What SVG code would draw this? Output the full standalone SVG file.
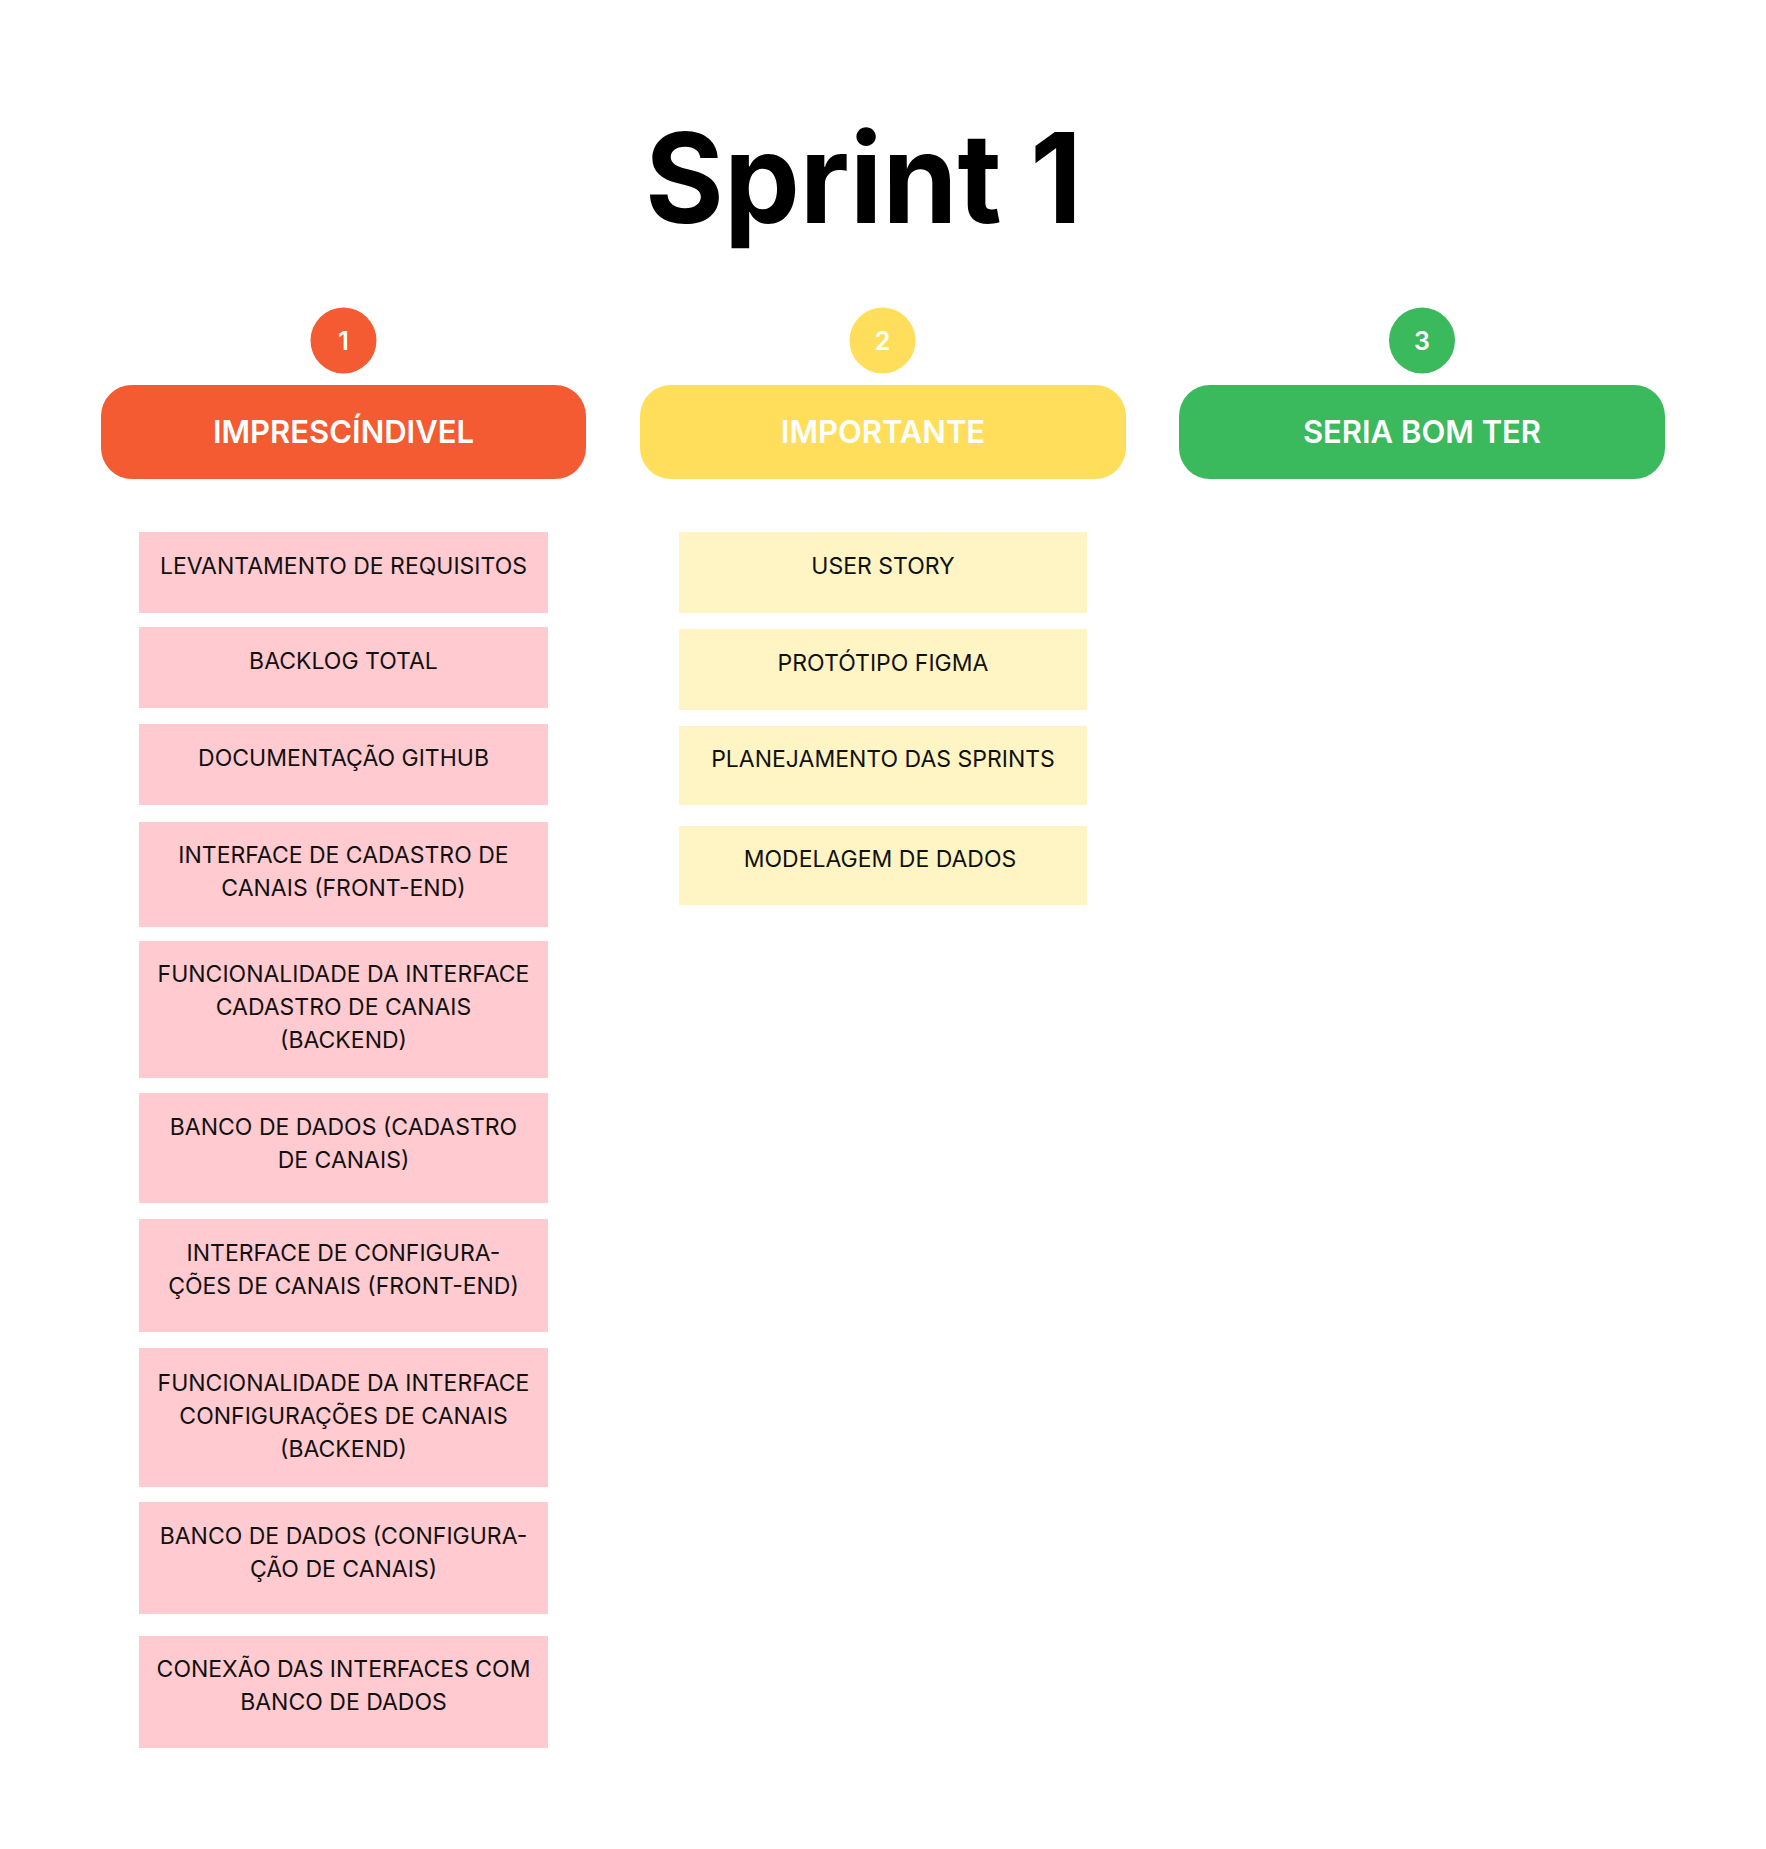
<svg xmlns="http://www.w3.org/2000/svg" width="1766" height="1849" viewBox="0 0 1766 1849">
<style>
.title{font-family:Inter,"Liberation Sans",sans-serif;font-weight:700;font-size:125px;fill:#000;text-anchor:middle}
.num{font-family:Inter,"Liberation Sans",sans-serif;font-weight:600;font-size:25px;fill:#fff;text-anchor:middle}
.head{font-family:Inter,"Liberation Sans",sans-serif;font-weight:600;font-size:31px;fill:#fff;text-anchor:middle}
.item{font-family:Inter,"Liberation Sans",sans-serif;font-weight:400;font-size:23px;fill:#111;text-anchor:middle}
.pink{fill:#FFCAD0}
.yel{fill:#FFF4C3}
.c1{fill:#F45B32}
.c2{fill:#FFDE5B}
.c3{fill:#3BB95D}
</style>
<rect width="1766" height="1849" fill="#fff"/>
<g id="title"><text class="title" x="863.5" y="223" textLength="437" lengthAdjust="spacingAndGlyphs">Sprint 1</text></g>

<g id="col1-head">
<circle class="c1" cx="343.5" cy="340.5" r="33"/>
<text class="num" x="343.5" y="350">1</text>
<rect class="c1" x="101" y="385" width="485" height="94" rx="31"/>
<text class="head" x="343.5" y="443">IMPRESCÍNDIVEL</text>
</g>
<g id="col2-head">
<circle class="c2" cx="882.5" cy="340.5" r="33"/>
<text class="num" x="882.5" y="350">2</text>
<rect class="c2" x="640" y="385" width="486" height="94" rx="31"/>
<text class="head" x="883" y="443">IMPORTANTE</text>
</g>
<g id="col3-head">
<circle class="c3" cx="1422" cy="340.5" r="33"/>
<text class="num" x="1422" y="350">3</text>
<rect class="c3" x="1179" y="385" width="486" height="94" rx="31"/>
<text class="head" x="1422" y="443">SERIA BOM TER</text>
</g>

<g id="p1"><rect class="pink" x="139" y="532" width="409" height="81"/><text class="item" x="343.5" y="574">LEVANTAMENTO DE REQUISITOS</text></g>
<g id="p2"><rect class="pink" x="139" y="627" width="409" height="81"/><text class="item" x="343.5" y="669">BACKLOG TOTAL</text></g>
<g id="p3"><rect class="pink" x="139" y="724" width="409" height="81"/><text class="item" x="343.5" y="766">DOCUMENTAÇÃO GITHUB</text></g>
<g id="p4"><rect class="pink" x="139" y="822" width="409" height="105"/><text class="item" x="343.5" y="863">INTERFACE DE CADASTRO DE</text><text class="item" x="343.5" y="896">CANAIS (FRONT-END)</text></g>
<g id="p5"><rect class="pink" x="139" y="941" width="409" height="137"/><text class="item" x="343.5" y="982">FUNCIONALIDADE DA INTERFACE</text><text class="item" x="343.5" y="1015">CADASTRO DE CANAIS</text><text class="item" x="343.5" y="1048">(BACKEND)</text></g>
<g id="p6"><rect class="pink" x="139" y="1093" width="409" height="110"/><text class="item" x="343.5" y="1135">BANCO DE DADOS (CADASTRO</text><text class="item" x="343.5" y="1168">DE CANAIS)</text></g>
<g id="p7"><rect class="pink" x="139" y="1219" width="409" height="113"/><text class="item" x="343.5" y="1261">INTERFACE DE CONFIGURA-</text><text class="item" x="343.5" y="1294">ÇÕES DE CANAIS (FRONT-END)</text></g>
<g id="p8"><rect class="pink" x="139" y="1348" width="409" height="139"/><text class="item" x="343.5" y="1391">FUNCIONALIDADE DA INTERFACE</text><text class="item" x="343.5" y="1424">CONFIGURAÇÕES DE CANAIS</text><text class="item" x="343.5" y="1457">(BACKEND)</text></g>
<g id="p9"><rect class="pink" x="139" y="1502" width="409" height="112"/><text class="item" x="343.5" y="1544">BANCO DE DADOS (CONFIGURA-</text><text class="item" x="343.5" y="1577">ÇÃO DE CANAIS)</text></g>
<g id="p10"><rect class="pink" x="139" y="1636" width="409" height="112"/><text class="item" x="343.5" y="1677">CONEXÃO DAS INTERFACES COM</text><text class="item" x="343.5" y="1710">BANCO DE DADOS</text></g>

<g id="y1"><rect class="yel" x="679" y="532" width="408" height="81"/><text class="item" x="883" y="574">USER STORY</text></g>
<g id="y2"><rect class="yel" x="679" y="629" width="408" height="81"/><text class="item" x="883" y="671">PROTÓTIPO FIGMA</text></g>
<g id="y3"><rect class="yel" x="679" y="726" width="408" height="79"/><text class="item" x="883" y="767">PLANEJAMENTO DAS SPRINTS</text></g>
<g id="y4"><rect class="yel" x="679" y="826" width="408" height="79"/><text class="item" x="880" y="867">MODELAGEM DE DADOS</text></g>

<g id="connectors"></g>
</svg>
